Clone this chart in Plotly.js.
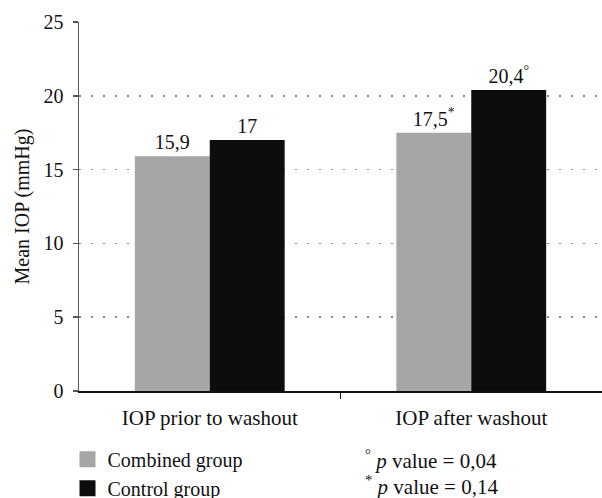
<!DOCTYPE html>
<html>
<head>
<meta charset="utf-8">
<script src="https://cdn.plot.ly/plotly-3.0.1.min.js"></script>
<style>html,body{margin:0;padding:0;background:#fff;}#chart{width:602px;height:498px;}</style>
</head>
<body>
<div id="chart"></div>
<script>
const categories = ["IOP prior to washout", "IOP after washout"];
const combinedValues = [15.9, 17.5];
const controlValues = [17.0, 20.4];
const combinedLabels = ["15,9", "17,5<sup>*</sup>"];
const controlLabels = ["17", "20,4<sup>°</sup>"];
const seriesNames = ["Combined group", "Control group"];
const seriesColors = ["#a6a6a6", "#0d0d0d"];
const yTicks = [0, 5, 10, 15, 20, 25];
const pNotes = ["<sup>°</sup> <i>p</i> value = 0,04", "<sup>*</sup> <i>p</i> value = 0,14"];

const positions = categories.map((c, i) => i);
const FONT = "Liberation Serif";
const TXT = {family: FONT, size: 21, color: "#111"};
const NUM = {family: FONT, size: 20, color: "#111"};

const traces = [
  {
    type: "bar", name: seriesNames[0], x: positions, y: combinedValues,
    text: combinedLabels, textposition: "outside", cliponaxis: false,
    textfont: NUM, marker: {color: seriesColors[0]}, hoverinfo: "none", showlegend: false
  },
  {
    type: "bar", name: seriesNames[1], x: positions, y: controlValues,
    text: controlLabels, textposition: "outside", cliponaxis: false,
    textfont: NUM, marker: {color: seriesColors[1]}, hoverinfo: "none", showlegend: false
  }
].concat(seriesNames.map((n, i) => ({
  type: "scatter", mode: "markers", name: n, x: [null], y: [null],
  marker: {symbol: "square", size: 16, color: seriesColors[i]}, hoverinfo: "none", showlegend: true
})));

const layout = {
  width: 602, height: 498,
  margin: {l: 79, r: 0, t: 22, b: 107},
  paper_bgcolor: "#fff", plot_bgcolor: "#fff",
  font: TXT,
  barmode: "group", bargap: 0.427, bargroupgap: 0,
  showlegend: true,
  legend: {
    xref: "paper", yref: "container",
    x: -0.022, xanchor: "left", y: 0.117, yanchor: "top",
    orientation: "v", traceorder: "normal", itemsizing: "trace",
    font: {family: FONT, size: 20, color: "#111"}, bgcolor: "rgba(0,0,0,0)", tracegroupgap: 0
  },
  xaxis: {
    type: "linear", range: [-0.5, 1.5],
    tickmode: "array", tickvals: positions, ticktext: categories,
    ticks: "", showgrid: false, zeroline: false,
    showline: true, linecolor: "#111", linewidth: 1.5,
    ticklabelstandoff: 7, tickfont: TXT,
    minor: {tickmode: "array", tickvals: [0.5], ticks: "outside", ticklen: 6, tickwidth: 1.5, tickcolor: "#111", showgrid: false}
  },
  yaxis: {
    range: [0, 25], tickmode: "array", tickvals: yTicks,
    ticks: "outside", ticklen: 5, tickwidth: 1.5, tickcolor: "#555",
    showline: true, linecolor: "#555", linewidth: 1.5,
    showgrid: true, gridcolor: "#8a8a8a", gridwidth: 1.5, griddash: "1.5px,10.5px",
    zeroline: false, ticklabelstandoff: 5, tickfont: NUM,
    title: {text: "Mean IOP (mmHg)", font: NUM, standoff: 8}
  },
  annotations: pNotes.map((t, i) => ({
    xref: "paper", yref: "paper", x: 0.543, y: -0.185 - i * 0.072,
    xanchor: "left", yanchor: "middle", showarrow: false, align: "left",
    text: t, font: TXT
  }))
};

Plotly.newPlot("chart", traces, layout, {displayModeBar: false, staticPlot: true});
</script>
</body>
</html>
